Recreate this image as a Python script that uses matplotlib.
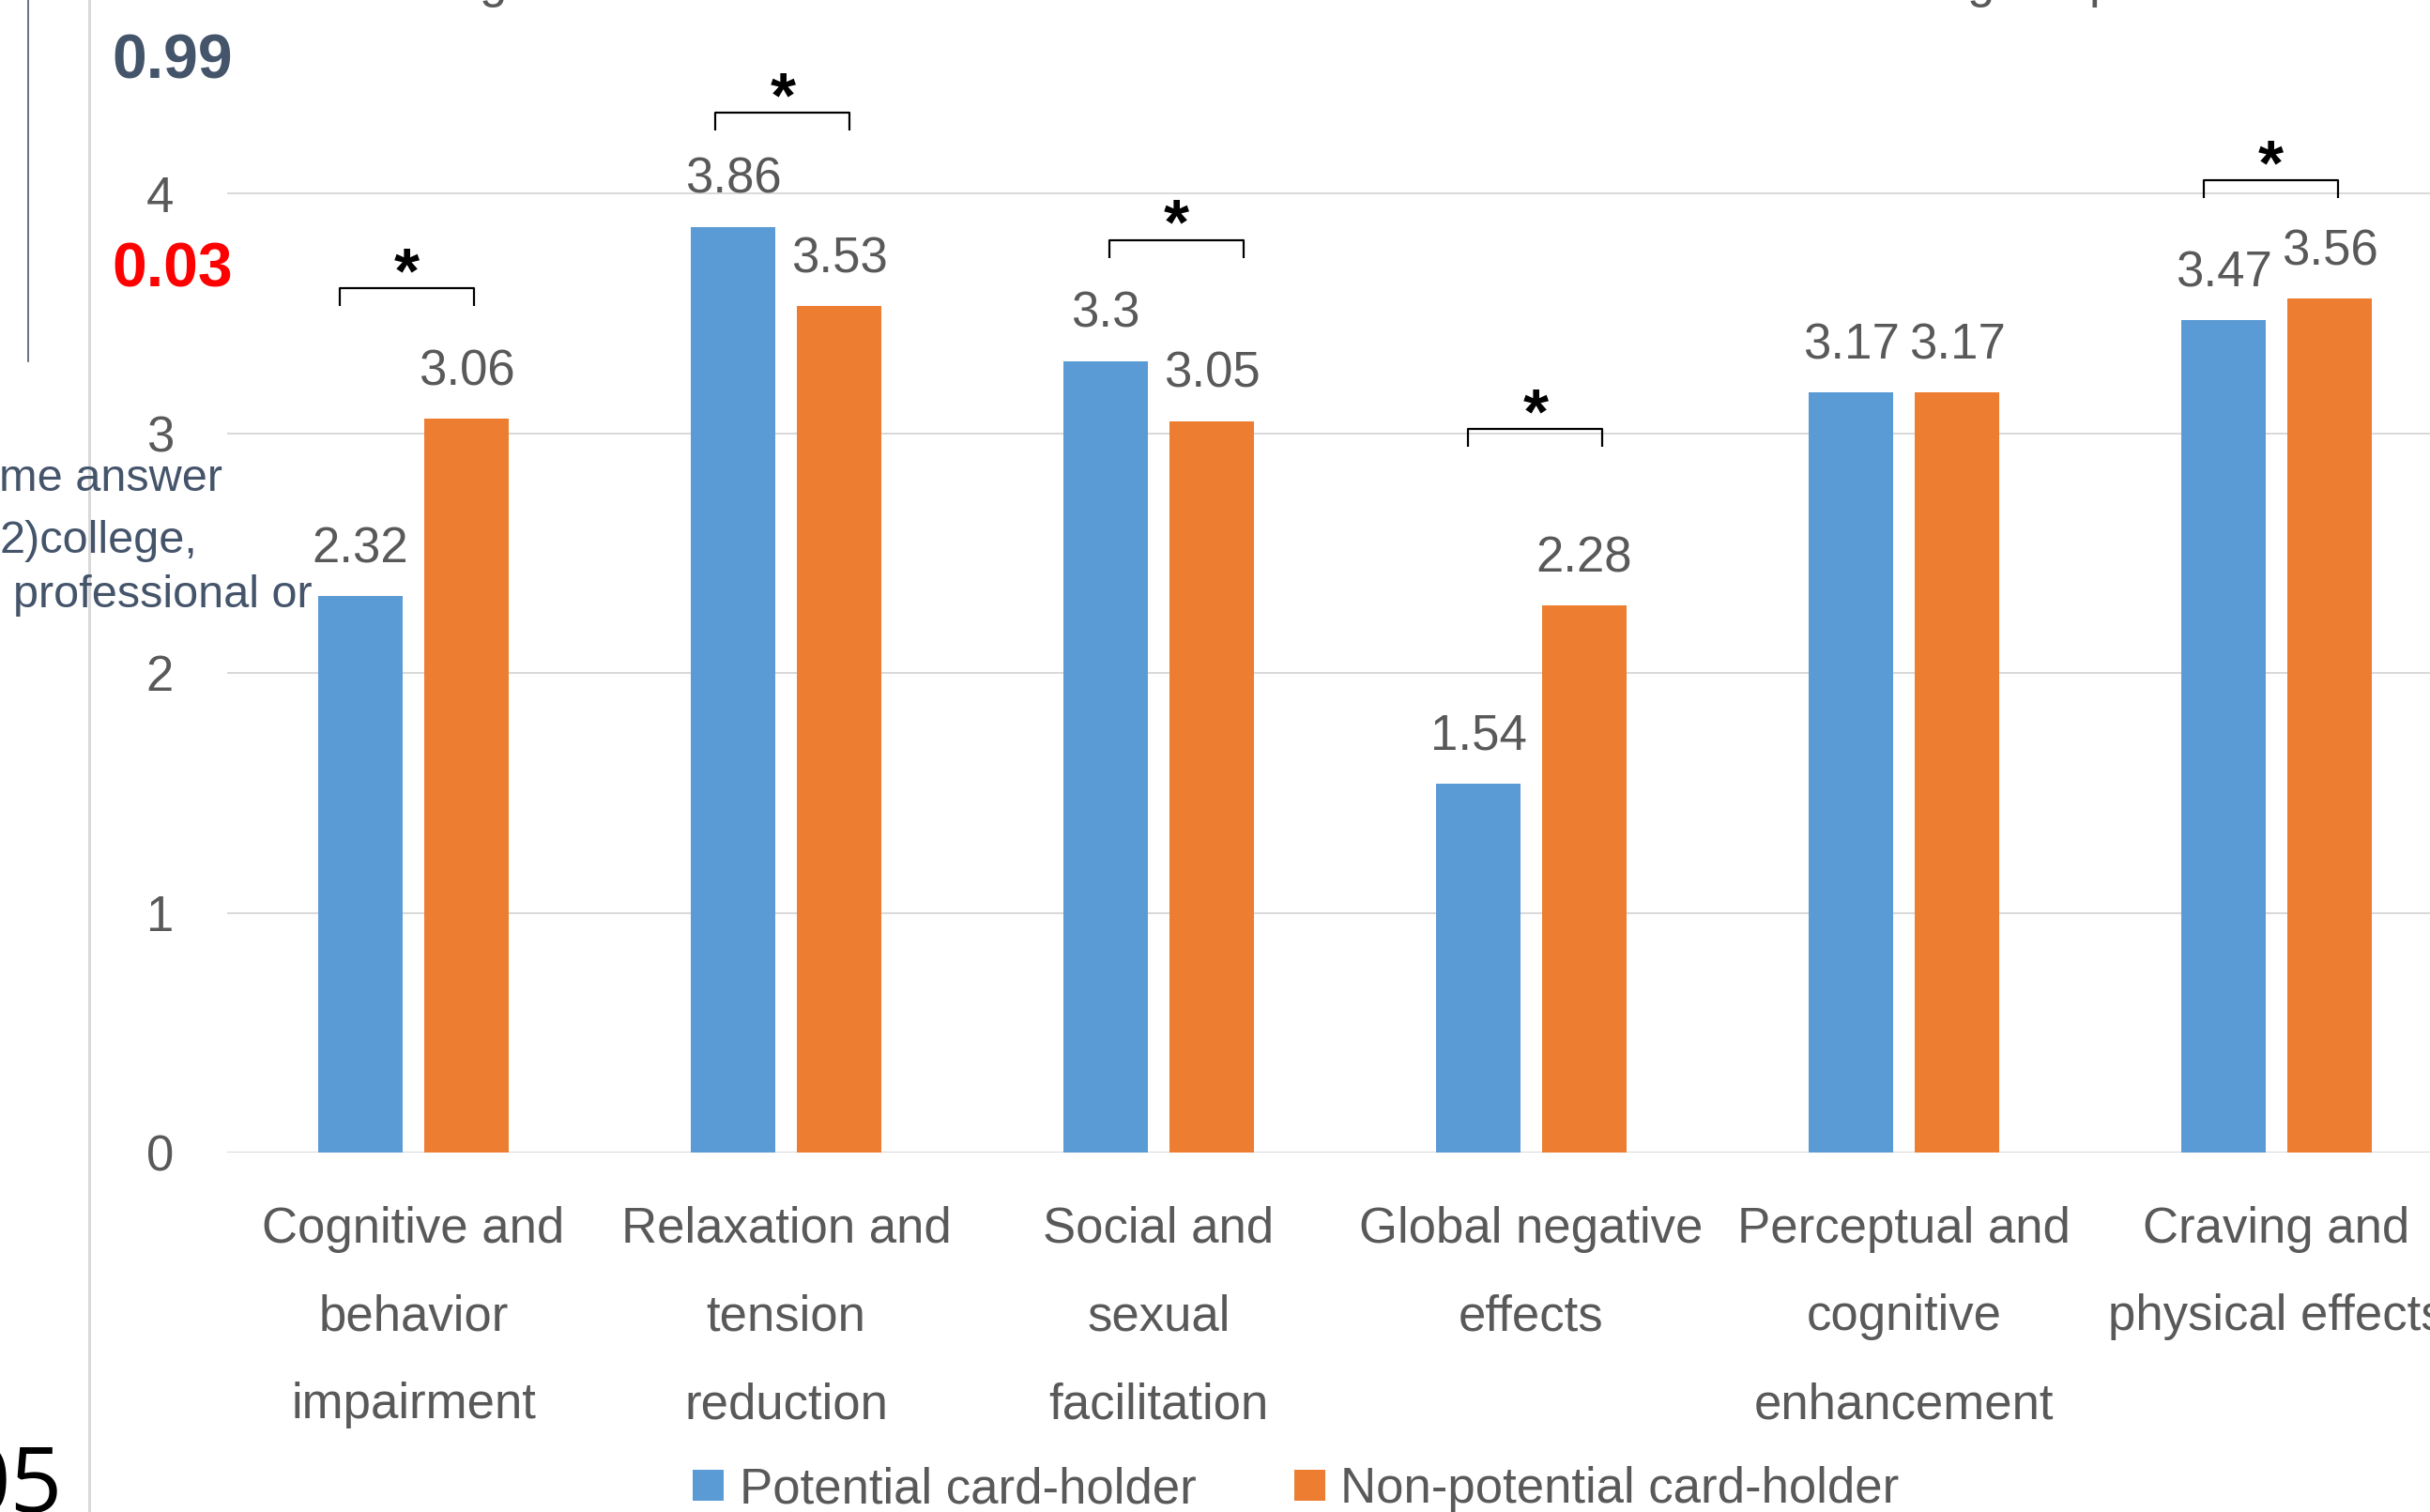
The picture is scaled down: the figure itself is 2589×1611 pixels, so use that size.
import matplotlib
matplotlib.use("Agg")
import matplotlib.pyplot as plt
from matplotlib.lines import Line2D

# ---- data ----
categories = [
    "Cognitive and\nbehavior\nimpairment",
    "Relaxation and\ntension\nreduction",
    "Social and\nsexual\nfacilitation",
    "Global negative\neffects",
    "Perceptual and\ncognitive\nenhancement",
    "Craving and\nphysical effects",
]
series_names = ["Potential card-holder", "Non-potential card-holder"]
potential = [2.32, 3.86, 3.30, 1.54, 3.17, 3.47]
non_potential = [3.06, 3.53, 3.05, 2.28, 3.17, 3.56]
y_ticks = [0, 1, 2, 3, 4]

# significance brackets: category index, bracket height, horizontal shift
sig_index = [0, 1, 2, 3, 5]
sig_height = [3.605, 4.335, 3.805, 3.017, 4.055]
sig_shift = [-0.018, -0.009, 0.047, 0.011, -0.015]

# ---- style ----
W, H, DPI = 2589, 1611, 100
BLUE = "#5B9BD5"
ORANGE = "#ED7D31"
GREY_TXT = "#595959"
GRID = "#D9D9D9"
SLATE = "#44546A"
FONT = "Liberation Sans"
FS = 38

plt.rcParams["font.family"] = [FONT, "DejaVu Sans"]

fig = plt.figure(figsize=(W / DPI, H / DPI), dpi=DPI)
fig.patch.set_facecolor("white")

def px(v):
    return v * 72.0 / DPI

# axes spans six category slots, extending slightly past the right edge
left_px, slot_px, zero_px, unit_px = 242, 397, 1228, 255.5
ymax = 4.8
ax = fig.add_axes([left_px / W, (H - zero_px) / H,
                   6 * slot_px / W, ymax * unit_px / H])
ax.set_xlim(-0.5, 5.5)
ax.set_ylim(0, ymax)
for s in ax.spines.values():
    s.set_visible(False)
ax.set_facecolor("none")

ax.set_yticks(y_ticks)
ax.set_yticklabels([str(t) for t in y_ticks])
ax.tick_params(axis="y", length=0, pad=px(57), labelsize=FS, labelcolor=GREY_TXT)
ax.set_xticks([])
for t in y_ticks:
    ax.axhline(t, color=GRID, lw=px(2), zorder=0)

bw = 0.2267
off = 0.1423
x = list(range(len(categories)))
b1 = ax.bar([i - off for i in x], potential, width=bw, color=BLUE, zorder=2,
            label=series_names[0])
b2 = ax.bar([i + off for i in x], non_potential, width=bw, color=ORANGE, zorder=2,
            label=series_names[1])

# value labels
for bars, vals in ((b1, potential), (b2, non_potential)):
    for rect, v in zip(bars, vals):
        ax.annotate(f"{v:g}", xy=(rect.get_x() + rect.get_width() / 2, v),
                    xytext=(0, px(36)), textcoords="offset points",
                    ha="center", va="baseline", fontsize=FS, color=GREY_TXT)

# category labels, one line at a time
for i, cat in enumerate(categories):
    for j, line in enumerate(cat.split("\n")):
        ax.annotate(line, xy=(i, 0), xycoords=("data", "axes fraction"),
                    xytext=(0, -px(96 + j * 93.5)), textcoords="offset points",
                    ha="center", va="baseline", fontsize=FS, color=GREY_TXT,
                    annotation_clip=False)

# significance brackets
half = 0.18
leg = 0.074
for i, h, s in zip(sig_index, sig_height, sig_shift):
    c = i + s
    ax.plot([c - half, c - half, c + half, c + half], [h - leg, h, h, h - leg],
            color="black", lw=px(2.2), solid_joinstyle="round",
            solid_capstyle="butt", zorder=3, clip_on=False)
    ax.annotate("*", xy=(c, h), xytext=(0, -px(4)), textcoords="offset points",
                ha="center", va="baseline", fontsize=50, fontweight="bold",
                color="black", annotation_clip=False)

# legend
ax.legend(handles=[b1, b2], loc="lower left",
          bbox_to_anchor=(738 / W, -1.0 / H), bbox_transform=fig.transFigure,
          ncol=2, frameon=False, fontsize=FS, labelcolor=GREY_TXT,
          handlelength=0.625, handleheight=0.6, handletextpad=0.32,
          columnspacing=1.97, borderpad=0, borderaxespad=0)

# ---- surrounding slide elements ----
fig.add_artist(Line2D([30 / W, 30 / W], [1, 1 - 385 / H], color=SLATE,
                      lw=px(1.6), transform=fig.transFigure))
fig.add_artist(Line2D([95 / W, 95 / W], [0, 1], color=GRID,
                      lw=px(3), transform=fig.transFigure, zorder=0))

def ftext(xp, yp, s, **kw):
    fig.text(xp / W, 1 - yp / H, s, va="baseline", **kw)

ftext(119, 83, "0.99", fontsize=47.5, fontweight="bold", color=SLATE)
ftext(119, 306, "0.03", fontsize=47.5, fontweight="bold", color="#FF0000")
ftext(-1, 523, "me answer", fontsize=35, color=SLATE)
ftext(-1, 589, "2)college,", fontsize=35, color=SLATE)
ftext(14, 647, "professional or", fontsize=35, color=SLATE)

ftext(66, 1611, "05", fontsize=70, color="black", ha="right",
      family=["Liberation Sans Narrow", "DejaVu Sans Condensed", "Open Sans"])

# descenders of a heading line above the visible area
ftext(511, -3, "g", fontsize=FS, color=GREY_TXT)
ftext(2096, -3, "g", fontsize=FS, color=GREY_TXT)
ftext(2226, -3, "p", fontsize=FS, color=GREY_TXT)

fig.savefig("out.png", dpi=DPI)
